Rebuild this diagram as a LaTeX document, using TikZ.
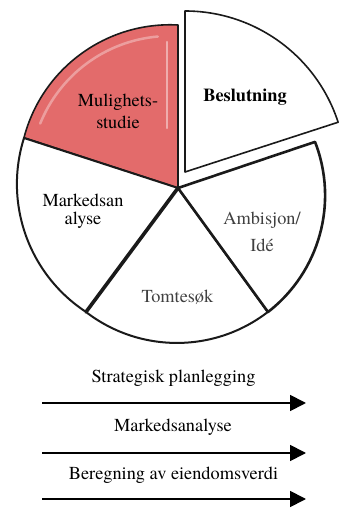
\documentclass[tikz,border=0pt]{standalone}
\usepackage{fontspec}
\IfFontExistsTF{TeX Gyre Termes}{\setmainfont{TeX Gyre Termes}}{}
\usetikzlibrary{arrows.meta,calc}
\definecolor{slicered}{HTML}{E36B6B}
\definecolor{sliceedge}{HTML}{1A1A1A}
\definecolor{greytext}{HTML}{404040}
\begin{document}
\begin{tikzpicture}[x=1pt,y=1pt,
  lbl/.style={font=\rmfamily\fontsize{18.3}{22}\selectfont, align=center, inner sep=0pt},
  slice/.style={draw=sliceedge, line join=round, fill=white},
  flow/.style={-{Triangle[length=16pt,width=16pt]}, line width=1.8pt, black}]
\useasboundingbox (0,0) rectangle (345,508);

% common tip of the pie and the tip of the pulled-out piece
\coordinate (C) at (178,320);
\coordinate (B) at (185,336);

% Mulighetsstudie (highlighted)
\draw[slice, fill=slicered, line width=1.6pt]
  (C) -- (178,483) arc[start angle=87, end angle=165.4, radius=151] -- cycle;
\draw[white, opacity=0.45, line width=2.5pt, line cap=round]
  (167,466) -- (167,380);
\draw[white, opacity=0.35, line width=2.5pt, line cap=round]
  ($(170,332)+(95:140)$) arc[start angle=95, end angle=158, radius=140];

% Markedsanalyse
\draw[slice, line width=2pt]
  (C) -- (24,370) arc[start angle=162.5, end angle=236.8, radius=153] -- cycle;
% Tomtesøk
\draw[slice, line width=2pt]
  (C) -- (86,196) arc[start angle=232.4, end angle=307.6, radius=149] -- cycle;
% Ambisjon/Idé
\draw[slice, line width=2.6pt]
  (C) -- (268,196) arc[start angle=307.8, end angle=381.3, radius=147.5] -- cycle;
\draw[sliceedge, line width=1.4pt] (C) -- (268,196);
% thick divider between Markedsanalyse and Tomtesøk
\draw[sliceedge, line width=3.6pt, line cap=round] (C) -- (86,196);
% Beslutning (pulled out)
\draw[slice, line width=1.6pt]
  (B) -- ++(18:161) arc[start angle=18, end angle=90, radius=161] -- cycle;

% labels in the pie
\node[lbl] (mul) at (118,397) {Mulighets-\\studie};
\node[lbl, font=\rmfamily\bfseries\fontsize{18.3}{22}\selectfont] (bes) at (245,411) {Beslutning};
\node[lbl, font=\rmfamily\fontsize{18.3}{18}\selectfont] (mar) at (83,297) {Markedsan\\alyse};
\node[lbl, text=greytext, font=\rmfamily\fontsize{18.3}{27}\selectfont] (amb) at (262,276) {Ambisjon/\\Idé};
\node[lbl, text=greytext] (tom) at (177.5,211) {Tomtesøk};

% activity streams below the pie
\node[lbl] (s1) at (173.5,130) {Strategisk planlegging};
\node[lbl] (s2) at (173,81) {Markedsanalyse};
\node[lbl] (s3) at (173.5,33) {Beregning av eiendomsverdi};
\coordinate (a1s) at (42,105);  \coordinate (a1e) at (306,105);
\coordinate (a2s) at (42,55);   \coordinate (a2e) at (306,55);
\coordinate (a3s) at (42,9);    \coordinate (a3e) at (306,9);
\draw[flow] (a1s) -- (a1e);
\draw[flow] (a2s) -- (a2e);
\draw[flow] (a3s) -- (a3e);
\end{tikzpicture}
\end{document}
